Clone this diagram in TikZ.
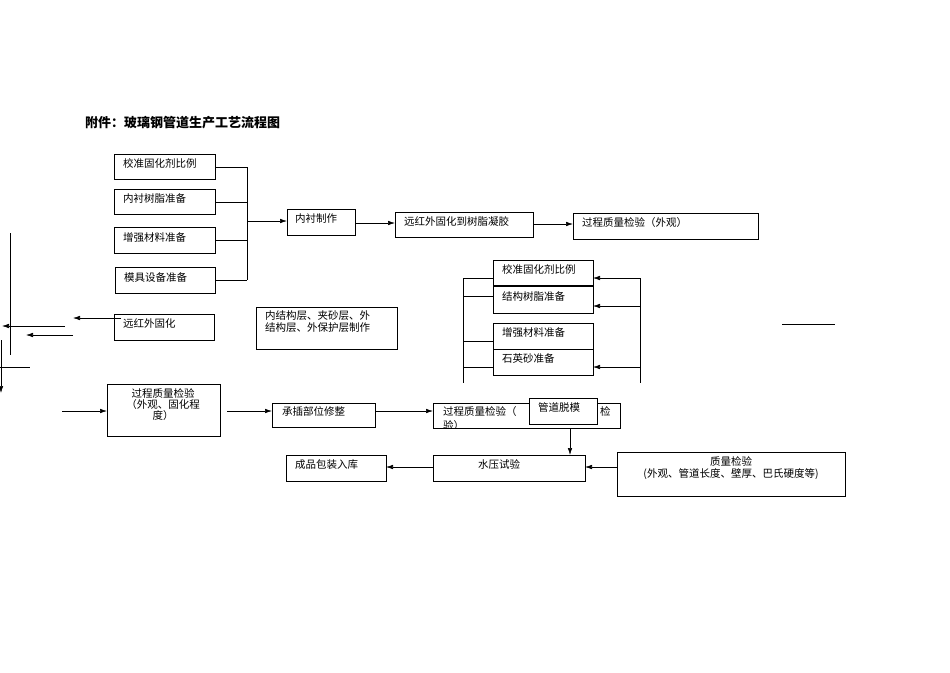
\documentclass[tikz,border=0pt]{standalone}
\usepackage{fontspec}
\setmainfont{Noto Sans CJK SC}
\usetikzlibrary{arrows.meta}
\begin{document}
\begin{tikzpicture}[x=1pt,y=-1pt,
  bx/.style={draw,line width=0.6pt,inner sep=0},
  lbl/.style={anchor=north west,inner sep=0,font=\fontsize{10.5}{12}\selectfont},
  ln/.style={line width=0.6pt},
  ar/.style={line width=0.6pt,-{Latex[length=7pt,width=4.5pt]}}]
\useasboundingbox (0,0) rectangle (950,672);
\node[anchor=west,inner sep=0,font=\fontsize{13}{15}\selectfont\bfseries] (title) at (85,123) {附件：玻璃钢管道生产工艺流程图};
% left group
\draw[bx] (114,154) rectangle (215,179); \node[lbl] (a1) at (123,158) {校准固化剂比例};
\draw[bx] (114,189) rectangle (215,214); \node[lbl] (a2) at (123,193) {内衬树脂准备};
\draw[bx] (114,227) rectangle (215,253); \node[lbl] (a3) at (123,232) {增强材料准备};
\draw[bx] (115,267) rectangle (215,293); \node[lbl] (a4) at (124,272) {模具设备准备};
\draw[ln] (215,167)--(247,167) (215,202)--(247,202) (215,240)--(247,240) (215,280)--(247,280) (247,167)--(247,280);
\coordinate (j1) at (247,221);
\draw[bx] (287,209) rectangle (355,235); \node[lbl] (b1) at (295,213) {内衬制作};
\draw[ar] (j1)--(287,221);
\draw[ar] (355,223)--(395,223);
\draw[bx] (395,212) rectangle (533,237); \node[lbl] (b2) at (404,216) {远红外固化到树脂凝胶};
\draw[ar] (533,224)--(573,224);
\draw[bx] (573,213) rectangle (758,239); \node[lbl] (b3) at (582,217) {过程质量检验（外观）};
% right group
\draw[bx] (493,260) rectangle (593,285); \node[lbl] (c1) at (502,264) {校准固化剂比例};
\draw[bx] (493,286) rectangle (593,313); \node[lbl] (c2) at (502,291) {结构树脂准备};
\draw[bx] (493,323) rectangle (593,349); \node[lbl] (c3) at (502,327) {增强材料准备};
\draw[bx] (493,349) rectangle (593,375); \node[lbl] (c4) at (502,353) {石英砂准备};
\draw[ln] (463,278)--(463,383) (463,278)--(493,278) (463,296)--(493,296) (463,341)--(493,341) (463,367)--(493,367);
\draw[ln] (640,278)--(640,383);
\draw[ar] (640,278)--(593,278);
\draw[ar] (640,306)--(593,306);
\draw[ar] (640,367)--(593,367);
\draw[ln] (782,324)--(835,324);
% middle
\draw[bx] (256,307) rectangle (397,349);
\node[lbl,align=left] (m1) at (265,310) {内结构层、夹砂层、外\\结构层、外保护层制作};
\draw[bx] (114,314) rectangle (214,340); \node[lbl] (r1) at (123,318) {远红外固化};
\draw[ar] (121,318)--(73,318);
\draw[ar] (65,326)--(2,326);
\draw[ar] (73,335)--(26,335);
\draw[ln] (10,233)--(10,355);
\draw[ar] (1,340)--(1,393);
\draw[ln] (0,367)--(30,367);
% bottom
\draw[bx] (107,384) rectangle (220,436);
\node[anchor=north,inner sep=0,align=center,font=\fontsize{10.5}{11}\selectfont] (q1) at (163,388) {过程质量检验\\（外观、固化程\\度）};
\draw[ar] (62,411)--(107,411);
\draw[ar] (227,411)--(272,411);
\draw[bx] (272,403) rectangle (375,427); \node[lbl] (s1) at (282,406) {承插部位修整};
\draw[ar] (375,411)--(433,411);
\draw[bx] (433,403) rectangle (620,428);
\node[lbl] (q2) at (443,406) {过程质量检验（};
\node[lbl] (q3) at (600,406) {检};
\begin{scope}
\clip (433,403) rectangle (620,428);
\node[lbl] (q4) at (443,420) {验）};
\end{scope}
\draw[bx,fill=white] (529,398) rectangle (597,424); \node[lbl] (t1) at (538,402) {管道脱模};
\draw[ar] (570,428)--(570,455);
\draw[bx] (433,455) rectangle (585,481); \node[lbl] (w1) at (478,459) {水压试验};
\draw[bx] (617,452) rectangle (845,496);
\node[anchor=north,inner sep=0,align=center,font=\fontsize{10.5}{12}\selectfont] (z1) at (731,456) {质量检验\\(外观、管道长度、壁厚、巴氏硬度等)};
\draw[ar] (617,467)--(585,467);
\draw[ar] (433,467)--(386,467);
\draw[bx] (286,455) rectangle (386,481); \node[lbl] (p1) at (295,459) {成品包装入库};
\end{tikzpicture}
\end{document}
